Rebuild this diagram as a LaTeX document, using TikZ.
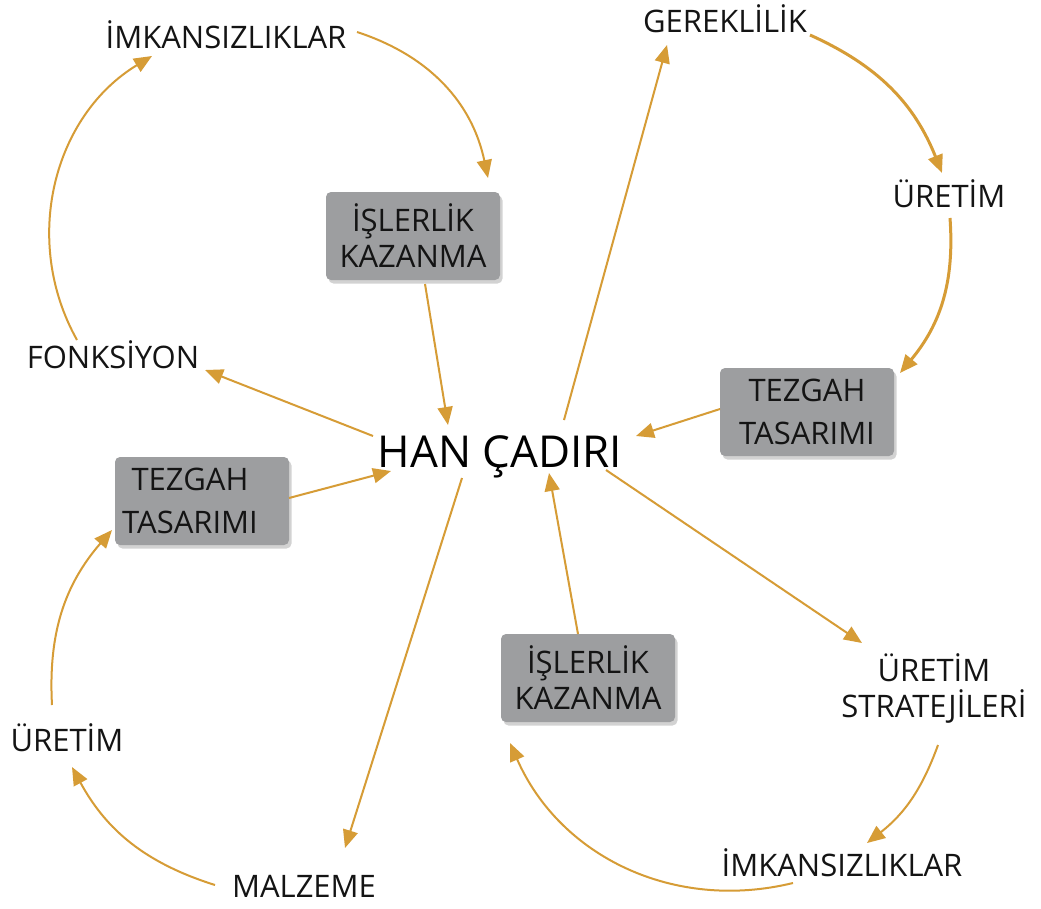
\documentclass[tikz,border=0pt]{standalone}
\usepackage{fontspec}
\setmainfont{Open Sans}
\usetikzlibrary{arrows.meta,shadows}
\definecolor{hanGold}{RGB}{214,156,54}
\definecolor{cardGray}{RGB}{157,158,160}

\begin{document}
\begin{tikzpicture}[x=1pt,y=-1pt,
  lbl/.style={inner sep=0pt,text height=22pt,text depth=0pt,font=\fontsize{31}{36}\selectfont,text=black!92},
  lbltwo/.style={inner sep=0pt,align=center,font=\fontsize{31}{36}\selectfont,text=black!92},
  card/.style={rounded corners=5pt,fill=cardGray,minimum width=174pt,minimum height=88pt,align=center,inner sep=0pt,
    font=\fontsize{31}{36}\selectfont,text=black!92,drop shadow={shadow xshift=2.5pt,shadow yshift=-3.5pt,opacity=.35}},
  arr/.style={-{Triangle[length=18pt,width=15pt]},line width=2pt,hanGold},
  thk/.style={arr,line width=3pt}]
\useasboundingbox[fill=white] (0,0) rectangle (1041,908);

% center
\node[inner sep=0pt,text height=31pt,text depth=0pt,font=\fontsize{44}{50}\selectfont] (han) at (500,452) {HAN ÇADIRI};

% labels
\node[lbl] (imkA) at (226,37) {İMKANSIZLIKLAR};
\node[lbl] (gerek) at (725,21) {GEREKLİLİK};
\node[lbl] (uretA) at (949,196) {ÜRETİM};
\node[lbl] (fonk) at (113,357) {FONKSİYON};
\node[lbltwo] (strat) at (934,688) {ÜRETİM\\STRATEJİLERİ};
\node[lbl] (uretB) at (67,740) {ÜRETİM};
\node[lbl] (imkB) at (842,865) {İMKANSIZLIKLAR};
\node[lbl] (malz) at (304,886) {MALZEME};

% grey cards
\node[card] (islA) at (413,236) {İŞLERLİK\\KAZANMA};
\node[card] (tezA) at (807,412) {TEZGAH\\[7pt]TASARIMI};
\node[card] (tezB) at (202,501) {TEZGAH\hspace*{24pt}\\[7pt]TASARIMI\hspace*{24pt}};
\node[card] (islB) at (588,678) {İŞLERLİK\\KAZANMA};

% spokes
\draw[arr] ([shift={(12,48)}]islA.center) -- ([shift={(-52,-27)}]han.center);
\draw[arr] ([shift={(-127,-16)}]han.center) -- ([shift={(92,13)}]fonk.center);
\draw[arr] ([shift={(64,-32)}]han.center) -- ([shift={(-58,24)}]gerek.center);
\draw[arr] ([shift={(-87,-3)}]tezA.center) -- ([shift={(136,-16)}]han.center);
\draw[arr] ([shift={(87,-3)}]tezB.center) -- ([shift={(-109,19)}]han.center);
\draw[arr] ([shift={(-38,26)}]han.center) -- ([shift={(41,-38)}]malz.center);
\draw[arr] ([shift={(-10,-44)}]islB.center) -- ([shift={(49,21)}]han.center);
\draw[arr] ([shift={(106,18)}]han.center) -- ([shift={(-72,-45)}]strat.center);

% loops
\draw[arr] ([shift={(131,-5)}]imkA.center) to[bend left=30] ([shift={(75,-58)}]islA.center);
\draw[arr] ([shift={(-36,-17)}]fonk.center) to[bend left=44] ([shift={(-74,19)}]imkA.center);
\draw[thk] ([shift={(85,14)}]gerek.center) to[bend left=22] ([shift={(-7,-23)}]uretA.center);
\draw[thk] ([shift={(1,22)}]uretA.center) to[bend left=22] ([shift={(93,-39)}]tezA.center);
\draw[arr] ([shift={(-15,-35)}]uretB.center) to[bend left=22] ([shift={(-90,29)}]tezB.center);
\draw[arr] ([shift={(-89,-1)}]malz.center) to[bend left=22] ([shift={(5,27)}]uretB.center);
\draw[arr] ([shift={(4,57)}]strat.center) to[bend left=16] ([shift={(25,-22)}]imkB.center);
\draw[arr] ([shift={(-49,18)}]imkB.center) to[bend left=40] ([shift={(-78,65)}]islB.center);
\end{tikzpicture}
\end{document}
